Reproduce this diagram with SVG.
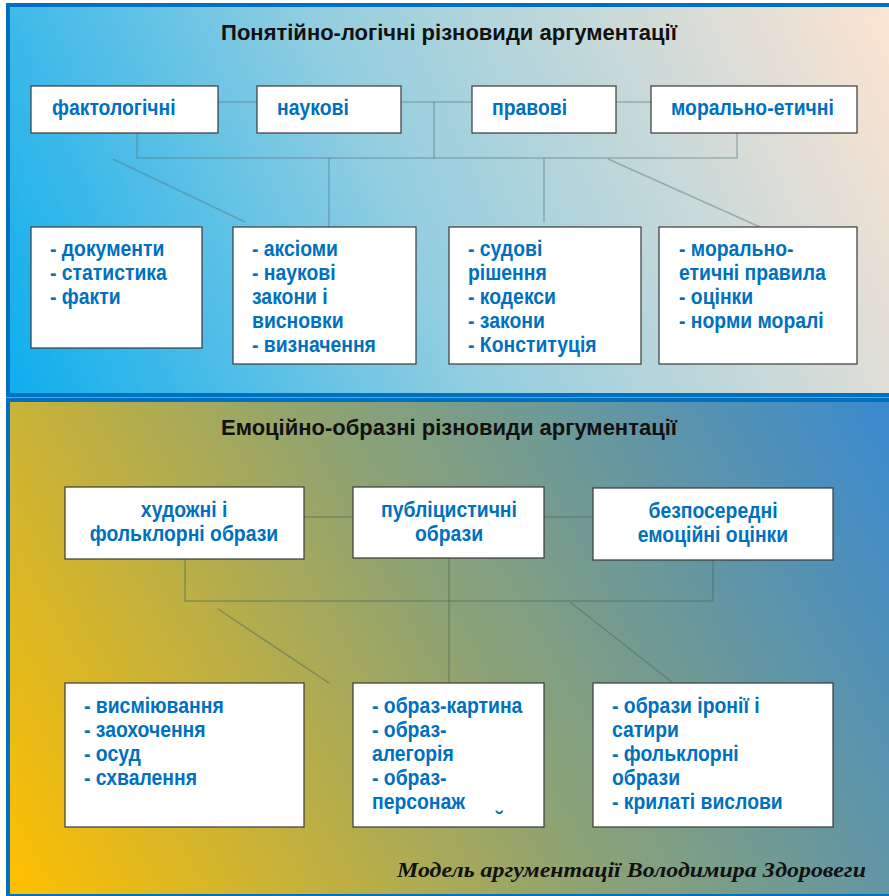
<svg xmlns="http://www.w3.org/2000/svg" width="889" height="896" viewBox="0 0 889 896">
  <defs>
    <linearGradient id="gradTop" gradientUnits="userSpaceOnUse" x1="10" y1="393" x2="889" y2="7">
      <stop offset="0" stop-color="#0eaeee"/>
      <stop offset="0.45" stop-color="#93cee0"/>
      <stop offset="1" stop-color="#fde4d2"/>
    </linearGradient>
    <linearGradient id="gradBottom" gradientUnits="userSpaceOnUse" x1="10" y1="894" x2="889" y2="402">
      <stop offset="0" stop-color="#ffc000"/>
      <stop offset="0.5" stop-color="#8fa372"/>
      <stop offset="1" stop-color="#3a8ad0"/>
    </linearGradient>
    <style>
      .box { fill: #ffffff; stroke: #3a3a3a; stroke-width: 1.2; }
      .lbl { font-family: "Liberation Sans", Arial, sans-serif; font-weight: bold; font-size: 22px; fill: #0070c0; }
      .mid { text-anchor: middle; }
      .title { font-family: "Liberation Sans", Arial, sans-serif; font-weight: bold; font-size: 22px; fill: #111111; text-anchor: middle; }
      .link { stroke: #55767c; stroke-opacity: 0.45; stroke-width: 1.5; fill: none; }
      .link2 { stroke: #4d6c58; stroke-opacity: 0.5; stroke-width: 1.5; fill: none; }
    </style>
  </defs>

  <rect x="0" y="0" width="889" height="896" fill="#ffffff"/>

  <!-- panels -->
  <rect x="6" y="3" width="883" height="394" fill="#0070c0"/>
  <rect x="10" y="7" width="879" height="386" fill="url(#gradTop)"/>
  <rect x="6" y="397" width="883" height="1.5" fill="#8fa060"/>
  <rect x="6" y="398" width="883" height="498" fill="#0070c0"/>
  <rect x="10" y="402" width="879" height="492" fill="url(#gradBottom)"/>

  <text class="title" x="449" y="40">Понятійно-логічні різновиди аргументації</text>
  <text class="title" x="449" y="435">Емоційно-образні різновиди аргументації</text>

  <!-- connectors -->
  <g id="connectors">
    <path class="link" d="M218 102 H257 M401 102 H472 M616 102 H651"/>
    <path class="link" d="M434 102 V158"/>
    <path class="link" d="M137 133 V158 H737 V133"/>
    <path class="link" d="M329 158 V227 M544 158 V222"/>
    <path class="link" d="M113 159 L245 222 M608 159 L760 227"/>

    <path class="link2" d="M304 517 H353 M544 517 H593"/>
    <path class="link2" d="M185 559 V601 H713 V560"/>
    <path class="link2" d="M449 558 V683"/>
    <path class="link2" d="M218 609 L329 683 M570 602 L673 683"/>
  </g>

  <!-- upper row -->
  <g id="n-faktolohichni">
    <rect class="box" x="31" y="86" width="187" height="47"/>
    <g transform="translate(52,0) scale(0.88,1)"><text class="lbl" x="0" y="115">фактологічні</text></g>
  </g>
  <g id="n-naukovi">
    <rect class="box" x="257" y="86" width="144" height="47"/>
    <g transform="translate(277,0) scale(0.88,1)"><text class="lbl" x="0" y="115">наукові</text></g>
  </g>
  <g id="n-pravovi">
    <rect class="box" x="472" y="86" width="144" height="47"/>
    <g transform="translate(492,0) scale(0.88,1)"><text class="lbl" x="0" y="115">правові</text></g>
  </g>
  <g id="n-moralno">
    <rect class="box" x="651" y="86" width="206" height="47"/>
    <g transform="translate(671,0) scale(0.88,1)"><text class="lbl" x="0" y="115">морально-етичні</text></g>
  </g>

  <g id="d-faktolohichni">
    <rect class="box" x="31" y="227" width="171" height="121"/>
    <g transform="translate(50,0) scale(0.88,1)">
      <text class="lbl" x="0" y="256">- документи</text>
      <text class="lbl" x="0" y="280">- статистика</text>
      <text class="lbl" x="0" y="304">- факти</text>
    </g>
  </g>
  <g id="d-naukovi">
    <rect class="box" x="233" y="227" width="183" height="137"/>
    <g transform="translate(252,0) scale(0.88,1)">
      <text class="lbl" x="0" y="256">- аксіоми</text>
      <text class="lbl" x="0" y="280">- наукові</text>
      <text class="lbl" x="0" y="304">закони і</text>
      <text class="lbl" x="0" y="328">висновки</text>
      <text class="lbl" x="0" y="352">- визначення</text>
    </g>
  </g>
  <g id="d-pravovi">
    <rect class="box" x="449" y="227" width="192" height="137"/>
    <g transform="translate(468,0) scale(0.88,1)">
      <text class="lbl" x="0" y="256">- судові</text>
      <text class="lbl" x="0" y="280">рішення</text>
      <text class="lbl" x="0" y="304">- кодекси</text>
      <text class="lbl" x="0" y="328">- закони</text>
      <text class="lbl" x="0" y="352">- Конституція</text>
    </g>
  </g>
  <g id="d-moralno">
    <rect class="box" x="659" y="227" width="198" height="137"/>
    <g transform="translate(679,0) scale(0.88,1)">
      <text class="lbl" x="0" y="256">- морально-</text>
      <text class="lbl" x="0" y="280">етичні правила</text>
      <text class="lbl" x="0" y="304">- оцінки</text>
      <text class="lbl" x="0" y="328">- норми моралі</text>
    </g>
  </g>

  <!-- lower part -->
  <g id="n-khudozhni">
    <rect class="box" x="65" y="487" width="239" height="72"/>
    <g transform="translate(184,0) scale(0.88,1)">
      <text class="lbl mid" x="0" y="517">художні і</text>
      <text class="lbl mid" x="0" y="541">фольклорні образи</text>
    </g>
  </g>
  <g id="n-publitsystychni">
    <rect class="box" x="353" y="487" width="191" height="71"/>
    <g transform="translate(449,0) scale(0.88,1)">
      <text class="lbl mid" x="0" y="517">публіцистичні</text>
      <text class="lbl mid" x="0" y="541">образи</text>
    </g>
  </g>
  <g id="n-bezposeredni">
    <rect class="box" x="593" y="488" width="240" height="72"/>
    <g transform="translate(713,0) scale(0.88,1)">
      <text class="lbl mid" x="0" y="518">безпосередні</text>
      <text class="lbl mid" x="0" y="542">емоційні оцінки</text>
    </g>
  </g>

  <g id="d-khudozhni">
    <rect class="box" x="65" y="683" width="239" height="144"/>
    <g transform="translate(84,0) scale(0.88,1)">
      <text class="lbl" x="0" y="713">- висміювання</text>
      <text class="lbl" x="0" y="737">- заохочення</text>
      <text class="lbl" x="0" y="761">- осуд</text>
      <text class="lbl" x="0" y="785">- схвалення</text>
    </g>
  </g>
  <g id="d-publitsystychni">
    <rect class="box" x="353" y="683" width="191" height="144"/>
    <g transform="translate(372,0) scale(0.88,1)">
      <text class="lbl" x="0" y="713">- образ-картина</text>
      <text class="lbl" x="0" y="737">- образ-</text>
      <text class="lbl" x="0" y="761">алегорія</text>
      <text class="lbl" x="0" y="785">- образ-</text>
      <text class="lbl" x="0" y="809">персонаж</text>
    </g>
    <text class="lbl" x="496" y="827" font-size="14">˘</text>
  </g>
  <g id="d-bezposeredni">
    <rect class="box" x="593" y="683" width="240" height="144"/>
    <g transform="translate(612,0) scale(0.88,1)">
      <text class="lbl" x="0" y="713">- образи іронії і</text>
      <text class="lbl" x="0" y="737">сатири</text>
      <text class="lbl" x="0" y="761">- фольклорні</text>
      <text class="lbl" x="0" y="785">образи</text>
      <text class="lbl" x="0" y="809">- крилаті вислови</text>
    </g>
  </g>

  <text x="397" y="877" font-family="'Liberation Serif', 'Times New Roman', serif" font-weight="bold" font-style="italic" font-size="21" fill="#111111" textLength="469" lengthAdjust="spacingAndGlyphs">Модель аргументації Володимира Здоровеги</text>
</svg>
